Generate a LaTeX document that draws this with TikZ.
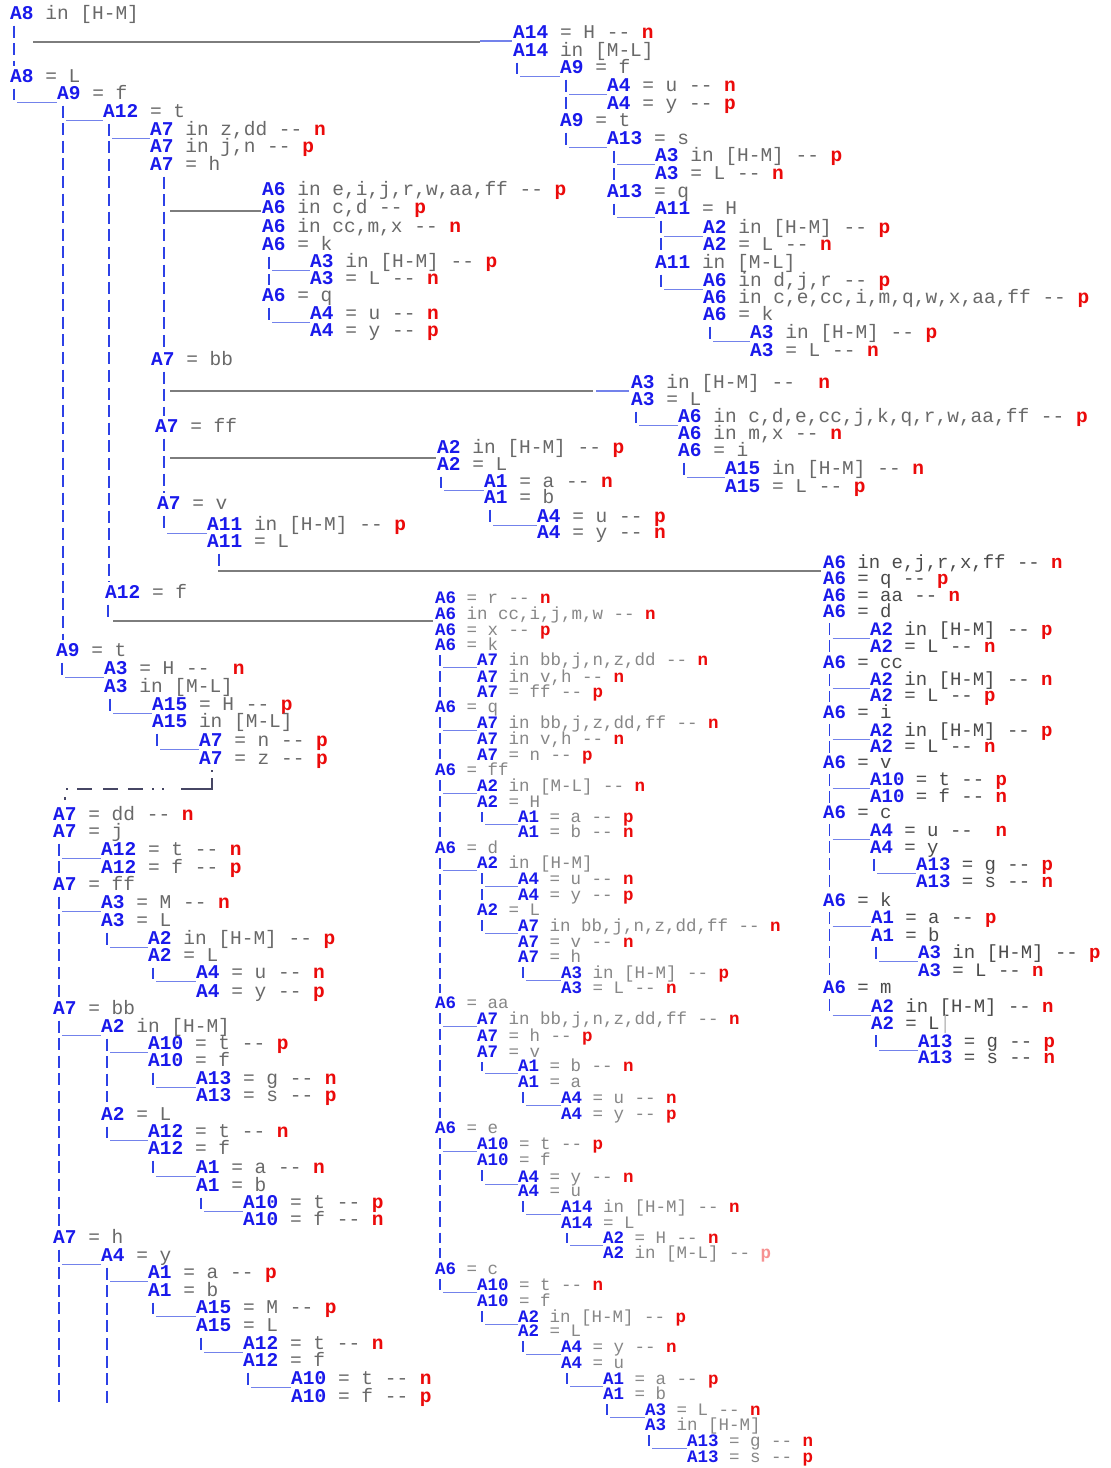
\documentclass[tikz,border=0pt]{standalone}
\usepackage{fontspec}
\newfontfamily\cMono{Liberation Mono}
\usetikzlibrary{calc}
\definecolor{attblue}{RGB}{25,25,235}
\definecolor{valgray}{RGB}{105,105,105}
\definecolor{vallight}{RGB}{135,135,135}
\definecolor{valdark}{RGB}{75,75,75}
\definecolor{clsred}{RGB}{235,10,10}
\definecolor{barblue}{RGB}{45,65,230}
\definecolor{ulblue}{RGB}{115,130,235}
\definecolor{lngray}{RGB}{125,125,125}
\definecolor{wgray}{RGB}{70,70,100}
\colorlet{curval}{valgray}
\newcommand\cAtt[1]{\textcolor{attblue}{\bfseries #1}}
\newcommand\cVal[1]{\textcolor{curval}{{}#1}}
\newcommand\cCls[1]{\textcolor{clsred}{\bfseries #1}}
\newcommand\ND[5]{\node[curtxt] (#1) at (#2,#3) {\cAtt{#4}\cVal{#5}};}
\newcommand\LF[6]{\node[curtxt] (#1) at (#2,#3) {\cAtt{#4}\cVal{#5 -{}- }\cCls{#6}};}
\newcommand\cBs{11.5}
\newcommand\cBe{6}
\newcommand\cUo{8.5}
\newcommand\cVB[3][5.5]{\draw[curbar] ($(#2.west)+(#1,\cBs)$) -- ($(#2.west|-#3.west)+(#1,\cBe)$);}
\newcommand\cVN[3][5.5]{\draw[curbar] ($(#2.west)+(#1,\cBs)$) -- ($(#2.west|-#3.west)+(#1,-\cBs)$);}
\newcommand\cHL[3][5.5]{\draw[ubar] ($(#3.west-|#2.west)+(#1+3,\cUo)$) -- ($(#3.west)+(-0.5,\cUo)$);}
\begin{document}
\begin{tikzpicture}[x=1pt,y=-1pt,
  txtA/.style={anchor=west,inner sep=0pt,text height=11pt,text depth=0pt,font=\cMono\fontsize{19.5}{20}\selectfont},
  txtM/.style={anchor=west,inner sep=0pt,text height=10pt,text depth=0pt,font=\cMono\fontsize{17.5}{18}\selectfont},
  txtR/.style={anchor=west,inner sep=0pt,text height=10.8pt,text depth=0pt,font=\cMono\fontsize{19}{20}\selectfont},
  curtxt/.style={txtA},
  barA/.style={draw=barblue,line width=1.4pt,dash pattern=on 12pt off 5.6pt},
  barM/.style={draw=barblue,line width=1.3pt,dash pattern=on 10.6pt off 5.1pt},
  barR/.style={draw=barblue,line width=1.4pt,dash pattern=on 11.7pt off 5.4pt},
  curbar/.style={barA},
  ubar/.style={draw=ulblue,line width=1.2pt},
  lgray/.style={draw=lngray,line width=1.2pt},
  wconn/.style={draw=wgray,line width=1.3pt,dash pattern=on 3pt off 9pt on 2pt off 9pt on 15pt off 11pt on 15pt off 10pt on 15pt off 9pt on 2pt off 8pt on 2pt off 17pt on 42pt off 6pt on 2pt off 60pt}
]
\fill[white] (0,0) rectangle (1111,1468);
\useasboundingbox (0,0) rectangle (1111,1468);

% ---------- top block ----------
\ND{t1}{10}{14}{A8}{ in [H-M]}
\LF{t2}{513}{33}{A14}{ = H}{n}
\ND{t3}{513}{51}{A14}{ in [M-L]}
\ND{t4}{560}{68}{A9}{ = f}
\LF{t5}{607}{86}{A4}{ = u}{n}
\LF{t6}{607}{104}{A4}{ = y}{p}
\ND{t7}{560}{121}{A9}{ = t}
\ND{t8}{607}{139}{A13}{ = s}
\LF{t9}{655}{156}{A3}{ in [H-M]}{p}
\LF{t10}{655}{174}{A3}{ = L}{n}
\ND{t11}{607}{192}{A13}{ = q}
\ND{t12}{655}{209}{A11}{ = H}
\LF{t13}{703}{228}{A2}{ in [H-M]}{p}
\LF{t14}{703}{245}{A2}{ = L}{n}
\ND{t15}{655}{263}{A11}{ in [M-L]}
\LF{t16}{703}{281}{A6}{ in d,j,r}{p}
\LF{t17}{703}{298}{A6}{ in c,e,cc,i,m,q,w,x,aa,ff}{p}
\ND{t18}{703}{315}{A6}{ = k}
\LF{t19}{750}{333}{A3}{ in [H-M]}{p}
\LF{t20}{750}{351}{A3}{ = L}{n}

% ---------- left tree ----------
\ND{l1}{10}{77}{A8}{ = L}
\ND{l2}{57}{94}{A9}{ = f}
\ND{l3}{103}{112}{A12}{ = t}
\LF{l4}{150}{130}{A7}{ in z,dd}{n}
\LF{l5}{150}{147}{A7}{ in j,n}{p}
\ND{l6}{150}{165}{A7}{ = h}
\LF{l7}{262}{190}{A6}{ in e,i,j,r,w,aa,ff}{p}
\LF{l8}{262}{208}{A6}{ in c,d}{p}
\LF{l9}{262}{227}{A6}{ in cc,m,x}{n}
\ND{l10}{262}{245}{A6}{ = k}
\LF{l11}{310}{262}{A3}{ in [H-M]}{p}
\LF{l12}{310}{279}{A3}{ = L}{n}
\ND{l13}{262}{296}{A6}{ = q}
\LF{l14}{310}{314}{A4}{ = u}{n}
\LF{l15}{310}{331}{A4}{ = y}{p}
\ND{l16}{151}{360}{A7}{ = bb}
\ND{l17}{155}{427}{A7}{ = ff}
\ND{l18}{157}{504}{A7}{ = v}
\LF{l19}{207}{525}{A11}{ in [H-M]}{p}
\ND{l20}{207}{542}{A11}{ = L}
\ND{l21}{105}{593}{A12}{ = f}
\ND{l22}{56}{651}{A9}{ = t}
\LF{l23}{104}{669}{A3}{ = H}{\ n}
\ND{l24}{104}{687}{A3}{ in [M-L]}
\LF{l25}{152}{705}{A15}{ = H}{p}
\ND{l26}{152}{722}{A15}{ in [M-L]}
\LF{l27}{199}{741}{A7}{ = n}{p}
\LF{l28}{199}{759}{A7}{ = z}{p}

% ---------- A3 block ----------
\LF{a1}{631}{383}{A3}{ in [H-M]}{\ n}
\ND{a2}{631}{400}{A3}{ = L}
\LF{a3}{678}{417}{A6}{ in c,d,e,cc,j,k,q,r,w,aa,ff}{p}
\LF{a4}{678}{434}{A6}{ in m,x}{n}
\ND{a5}{678}{451}{A6}{ = i}
\LF{a6}{725}{469}{A15}{ in [H-M]}{n}
\LF{a7}{725}{487}{A15}{ = L}{p}

% ---------- A2 block ----------
\LF{b1}{437}{448}{A2}{ in [H-M]}{p}
\ND{b2}{437}{465}{A2}{ = L}
\LF{b3}{484}{482}{A1}{ = a}{n}
\ND{b4}{484}{498}{A1}{ = b}
\LF{b5}{537}{517}{A4}{ = u}{p}
\LF{b6}{537}{533}{A4}{ = y}{n}

% ---------- bottom-left ----------
\LF{g1}{53}{815}{A7}{ = dd}{n}
\ND{g2}{53}{832}{A7}{ = j}
\LF{g3}{101}{850}{A12}{ = t}{n}
\LF{g4}{101}{868}{A12}{ = f}{p}
\ND{g5}{53}{885}{A7}{ = ff}
\LF{g6}{101}{903}{A3}{ = M}{n}
\ND{g7}{101}{921}{A3}{ = L}
\LF{g8}{148}{939}{A2}{ in [H-M]}{p}
\ND{g9}{148}{956}{A2}{ = L}
\LF{g10}{196}{973}{A4}{ = u}{n}
\LF{g11}{196}{992}{A4}{ = y}{p}
\ND{g12}{53}{1009}{A7}{ = bb}
\ND{g13}{101}{1027}{A2}{ in [H-M]}
\LF{g14}{148}{1044}{A10}{ = t}{p}
\ND{g15}{148}{1061}{A10}{ = f}
\LF{g16}{196}{1079}{A13}{ = g}{n}
\LF{g17}{196}{1096}{A13}{ = s}{p}
\ND{g18}{101}{1115}{A2}{ = L}
\LF{g19}{148}{1132}{A12}{ = t}{n}
\ND{g20}{148}{1149}{A12}{ = f}
\LF{g21}{196}{1168}{A1}{ = a}{n}
\ND{g22}{196}{1186}{A1}{ = b}
\LF{g23}{243}{1203}{A10}{ = t}{p}
\LF{g24}{243}{1220}{A10}{ = f}{n}
\ND{g25}{53}{1238}{A7}{ = h}
\ND{g26}{101}{1256}{A4}{ = y}
\LF{g27}{148}{1273}{A1}{ = a}{p}
\ND{g28}{148}{1291}{A1}{ = b}
\LF{g29}{196}{1308}{A15}{ = M}{p}
\ND{g30}{196}{1326}{A15}{ = L}
\LF{g31}{243}{1344}{A12}{ = t}{n}
\ND{g32}{243}{1361}{A12}{ = f}
\LF{g33}{291}{1379}{A10}{ = t}{n}
\LF{g34}{291}{1397}{A10}{ = f}{p}

% ---------- right A6 block ----------
\tikzset{curtxt/.style={txtR}}
\colorlet{curval}{valdark}
\LF{r1}{823}{563}{A6}{ in e,j,r,x,ff}{n}
\LF{r2}{823}{579}{A6}{ = q}{p}
\LF{r3}{823}{596}{A6}{ = aa}{n}
\ND{r4}{823}{612}{A6}{ = d}
\LF{r5}{870}{630}{A2}{ in [H-M]}{p}
\LF{r6}{870}{647}{A2}{ = L}{n}
\ND{r7}{823}{663}{A6}{ = cc}
\LF{r8}{870}{680}{A2}{ in [H-M]}{n}
\LF{r9}{870}{696}{A2}{ = L}{p}
\ND{r10}{823}{713}{A6}{ = i}
\LF{r11}{870}{731}{A2}{ in [H-M]}{p}
\LF{r12}{870}{747}{A2}{ = L}{n}
\ND{r13}{823}{763}{A6}{ = v}
\LF{r14}{870}{780}{A10}{ = t}{p}
\LF{r15}{870}{797}{A10}{ = f}{n}
\ND{r16}{823}{813}{A6}{ = c}
\LF{r17}{870}{831}{A4}{ = u}{\ n}
\ND{r18}{870}{848}{A4}{ = y}
\LF{r19}{916}{865}{A13}{ = g}{p}
\LF{r20}{916}{882}{A13}{ = s}{n}
\ND{r21}{823}{901}{A6}{ = k}
\LF{r22}{871}{918}{A1}{ = a}{p}
\ND{r23}{871}{936}{A1}{ = b}
\LF{r24}{918}{953}{A3}{ in [H-M]}{p}
\LF{r25}{918}{971}{A3}{ = L}{n}
\ND{r26}{823}{988}{A6}{ = m}
\LF{r27}{871}{1007}{A2}{ in [H-M]}{n}
\node[curtxt] (r28) at (871,1024) {\cAtt{A2}\cVal{ = L}\textcolor{lightgray}{|}};
\LF{r29}{918}{1042}{A13}{ = g}{p}
\LF{r30}{918}{1058}{A13}{ = s}{n}

% ---------- middle block ----------
\tikzset{curtxt/.style={txtM}}
\colorlet{curval}{vallight}
\LF{m1}{435}{598}{A6}{ = r}{n}
\LF{m2}{435}{614}{A6}{ in cc,i,j,m,w}{n}
\LF{m3}{435}{630}{A6}{ = x}{p}
\ND{m4}{435}{645}{A6}{ = k}
\LF{m5}{477}{660}{A7}{ in bb,j,n,z,dd}{n}
\LF{m6}{477}{677}{A7}{ in v,h}{n}
\LF{m7}{477}{692}{A7}{ = ff}{p}
\ND{m8}{435}{707}{A6}{ = q}
\LF{m9}{477}{723}{A7}{ in bb,j,z,dd,ff}{n}
\LF{m10}{477}{739}{A7}{ in v,h}{n}
\LF{m11}{477}{755}{A7}{ = n}{p}
\ND{m12}{435}{770}{A6}{ = ff}
\LF{m13}{477}{786}{A2}{ in [M-L]}{n}
\ND{m14}{477}{802}{A2}{ = H}
\LF{m15}{518}{817}{A1}{ = a}{p}
\LF{m16}{518}{832}{A1}{ = b}{n}
\ND{m17}{435}{848}{A6}{ = d}
\ND{m18}{477}{863}{A2}{ in [H-M]}
\LF{m19}{518}{879}{A4}{ = u}{n}
\LF{m20}{518}{895}{A4}{ = y}{p}
\ND{m21}{477}{910}{A2}{ = L}
\LF{m22}{518}{926}{A7}{ in bb,j,n,z,dd,ff}{n}
\LF{m23}{518}{942}{A7}{ = v}{n}
\ND{m24}{518}{957}{A7}{ = h}
\LF{m25}{561}{973}{A3}{ in [H-M]}{p}
\LF{m26}{561}{988}{A3}{ = L}{n}
\ND{m27}{435}{1003}{A6}{ = aa}
\LF{m28}{477}{1019}{A7}{ in bb,j,n,z,dd,ff}{n}
\LF{m29}{477}{1036}{A7}{ = h}{p}
\ND{m30}{477}{1052}{A7}{ = v}
\LF{m31}{518}{1066}{A1}{ = b}{n}
\ND{m32}{518}{1082}{A1}{ = a}
\LF{m33}{561}{1098}{A4}{ = u}{n}
\LF{m34}{561}{1114}{A4}{ = y}{p}
\ND{m35}{435}{1128}{A6}{ = e}
\LF{m36}{477}{1144}{A10}{ = t}{p}
\ND{m37}{477}{1160}{A10}{ = f}
\LF{m38}{518}{1177}{A4}{ = y}{n}
\ND{m39}{518}{1191}{A4}{ = u}
\LF{m40}{561}{1207}{A14}{ in [H-M]}{n}
\ND{m41}{561}{1223}{A14}{ = L}
\LF{m42}{603}{1238}{A2}{ = H}{n}
\node[curtxt] (m43) at (603,1253) {\cAtt{A2}\cVal{ in [M-L] -{}- }\textcolor{clsred!45}{\bfseries p}};
\ND{m44}{435}{1269}{A6}{ = c}
\LF{m45}{477}{1285}{A10}{ = t}{n}
\ND{m46}{477}{1301}{A10}{ = f}
\LF{m47}{518}{1317}{A2}{ in [H-M]}{p}
\ND{m48}{518}{1331}{A2}{ = L}
\LF{m49}{561}{1347}{A4}{ = y}{n}
\ND{m50}{561}{1363}{A4}{ = u}
\LF{m51}{603}{1379}{A1}{ = a}{p}
\ND{m52}{603}{1394}{A1}{ = b}
\LF{m53}{645}{1410}{A3}{ = L}{n}
\ND{m54}{645}{1425}{A3}{ in [H-M]}
\LF{m55}{687}{1441}{A13}{ = g}{n}
\LF{m56}{687}{1457}{A13}{ = s}{p}

% ================= connectors =================
% top block
\cVN[4]{t1}{l1}
\draw[lgray] ($(t2.west -| t1.west)+(23,9)$) -- ($(t2.west)+(-33,9)$);
\draw[ubar] ($(t2.west)+(-33,8)$) -- ($(t2.west)+(-1,8)$);
\cVB[4]{t3}{t4} \cHL[4]{t3}{t4}
\cVB[6]{t4}{t6} \cHL[6]{t4}{t5}
\cVB[6]{t7}{t8} \cHL[6]{t7}{t8}
\cVB[7]{t8}{t10} \cHL[7]{t8}{t9}
\cVB[7]{t11}{t12} \cHL[7]{t11}{t12}
\cVB[6]{t12}{t14} \cHL[6]{t12}{t13}
\cVB[6]{t15}{t16} \cHL[6]{t15}{t16}
\cVB[7]{t18}{t19} \cHL[7]{t18}{t19}
% left tree
\cVB[4]{l1}{l2} \cHL[4]{l1}{l2}
\cVN[6]{l2}{l22} \cHL[6]{l2}{l3}
\cVN[6]{l3}{l21} \cHL[6]{l3}{l4}
\cVN[14]{l6}{l16}
\draw[lgray] ($(l8.west -| l6.west)+(20,3)$) -- ($(l8.west)+(-1,3)$);
\cVB[7]{l10}{l12} \cHL[7]{l10}{l11}
\cVB[7]{l13}{l14} \cHL[7]{l13}{l14}
\cVN[13]{l16}{l17}
\draw[lgray] ($(a1.west -| l16.west)+(19,8)$) -- ($(a1.west)+(-38,8)$);
\draw[ubar] ($(a1.west)+(-35,8)$) -- ($(a1.west)+(-2,8)$);
\cVN[9]{l17}{l18}
\draw[lgray] ($(b1.west -| l17.west)+(15,10)$) -- ($(b1.west)+(-1,10)$);
\cVB[7]{l18}{l19} \cHL[7]{l18}{l19}
\cVB[12]{l20}{r1}
\draw[lgray] ($(r1.west -| l20.west)+(11,8)$) -- ($(r1.west)+(-2,8)$);
\cVB[3]{l21}{m2}
\draw[lgray] ($(m2.west -| l21.west)+(8,7)$) -- ($(m2.west)+(-2,7)$);
\cVB[6]{l22}{l23} \cHL[6]{l22}{l23}
\cVB[6]{l24}{l25} \cHL[6]{l24}{l25}
\cVB[5]{l26}{l27} \cHL[5]{l26}{l27}
\draw[wconn] ($(g1.west)+(12,-15)$) -- ($(g1.west)+(12,-26)$) -| ($(l28.west)+(13,11)$);
% A3 and A2 blocks
\cVB[5]{a2}{a3} \cHL[5]{a2}{a3}
\cVB[6]{a5}{a6} \cHL[6]{a5}{a6}
\cVB[4]{b2}{b3} \cHL[4]{b2}{b3}
\cVB[6]{b4}{b5} \cHL[6]{b4}{b5}
% bottom-left
\cVB[6]{g2}{g4} \cHL[6]{g2}{g3}
\cVB[6]{g5}{g11} \cHL[6]{g5}{g6}
\cVB[6]{g7}{g8} \cHL[6]{g7}{g8}
\cVB[5]{g9}{g10} \cHL[5]{g9}{g10}
\cVN[6]{g12}{g25} \cHL[6]{g12}{g13}
\cVB[6]{g13}{g17} \cHL[6]{g13}{g14}
\cVB[5]{g15}{g16} \cHL[5]{g15}{g16}
\cVB[6]{g18}{g19} \cHL[6]{g18}{g19}
\cVB[5]{g20}{g21} \cHL[5]{g20}{g21}
\cVB[5]{g22}{g23} \cHL[5]{g22}{g23}
\cVB[6]{g25}{g34} \cHL[6]{g25}{g26}
\cVB[6]{g26}{g34} \cHL[6]{g26}{g27}
\cVB[5]{g28}{g29} \cHL[5]{g28}{g29}
\cVB[5]{g30}{g31} \cHL[5]{g30}{g31}
\cVB[5]{g32}{g33} \cHL[5]{g32}{g33}
% right A6 block
\tikzset{curbar/.style={barR}}
\renewcommand\cBs{11.1}
\renewcommand\cBe{5.8}
\renewcommand\cUo{8.3}
\cVB[6.5]{r4}{r6} \cHL[6.5]{r4}{r5}
\cVB[6.5]{r7}{r9} \cHL[6.5]{r7}{r8}
\cVB[6.5]{r10}{r12} \cHL[6.5]{r10}{r11}
\cVB[6.5]{r13}{r15} \cHL[6.5]{r13}{r14}
\cVB[6.5]{r16}{r20} \cHL[6.5]{r16}{r17}
\cVB[4]{r18}{r19} \cHL[4]{r18}{r19}
\cVB[6.5]{r21}{r25} \cHL[6.5]{r21}{r22}
\cVB[5]{r23}{r24} \cHL[5]{r23}{r24}
\cVB[6.5]{r26}{r27} \cHL[6.5]{r26}{r27}
\cVB[5]{r28}{r29} \cHL[5]{r28}{r29}
% middle block
\tikzset{curbar/.style={barM}}
\renewcommand\cBs{10.3}
\renewcommand\cBe{5.3}
\renewcommand\cUo{7.7}
\cVB[5]{m4}{m7} \cHL[5]{m4}{m5}
\cVB[5]{m8}{m11} \cHL[5]{m8}{m9}
\cVB[5]{m12}{m16} \cHL[5]{m12}{m13}
\cVB[5]{m14}{m15} \cHL[5]{m14}{m15}
\cVB[5]{m17}{m26} \cHL[5]{m17}{m18}
\cVB[5]{m18}{m20} \cHL[5]{m18}{m19}
\cVB[5]{m21}{m22} \cHL[5]{m21}{m22}
\cVB[5]{m24}{m25} \cHL[5]{m24}{m25}
\cVB[5]{m27}{m34} \cHL[5]{m27}{m28}
\cVB[5]{m30}{m31} \cHL[5]{m30}{m31}
\cVB[5]{m32}{m33} \cHL[5]{m32}{m33}
\cVB[5]{m35}{m43} \cHL[5]{m35}{m36}
\cVB[5]{m37}{m38} \cHL[5]{m37}{m38}
\cVB[5]{m39}{m40} \cHL[5]{m39}{m40}
\cVB[6]{m41}{m42} \cHL[6]{m41}{m42}
\cVB[5]{m44}{m45} \cHL[5]{m44}{m45}
\cVB[5]{m46}{m47} \cHL[5]{m46}{m47}
\cVB[5]{m48}{m49} \cHL[5]{m48}{m49}
\cVB[6]{m50}{m51} \cHL[6]{m50}{m51}
\cVB[4]{m52}{m53} \cHL[4]{m52}{m53}
\cVB[4]{m54}{m55} \cHL[4]{m54}{m55}
\end{tikzpicture}
\end{document}
